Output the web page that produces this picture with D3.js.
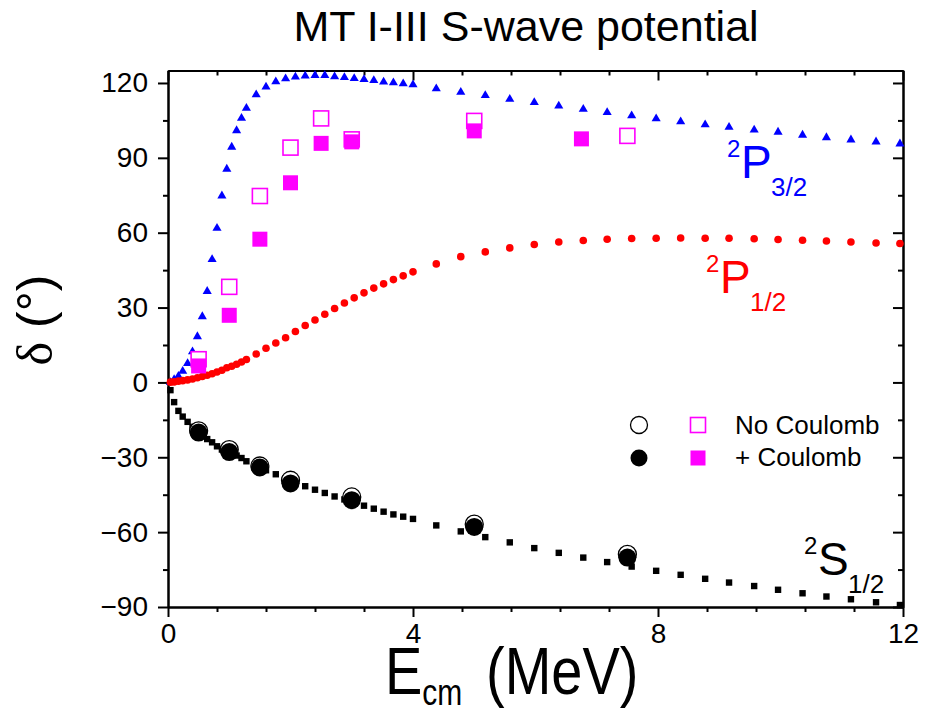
<!DOCTYPE html>
<html>
<head>
<meta charset="utf-8">
<script src="https://cdn.jsdelivr.net/npm/d3@7"></script>
<style>
  body { margin: 0; background: #fff; }
  svg { font-family: "Liberation Sans", Arial, sans-serif; }
  .axis path, .axis line { stroke: #000; stroke-width: 2; }
  .axis text { font-size: 28px; fill: #000; }
</style>
</head>
<body>
<div id="graf"></div>
<script>
// Energia (MeV) de las curvas
const energia = [0.04, 0.1, 0.17, 0.24, 0.32, 0.4, 0.48, 0.56, 0.64, 0.72, 0.8, 0.88, 0.96, 1.04, 1.12, 1.2, 1.28,
  1.44, 1.6, 1.76, 1.92, 2.08, 2.24, 2.4, 2.56, 2.72, 2.88, 3.04, 3.2, 3.36, 3.52, 3.68, 3.84, 4.0,
  4.38, 4.78, 5.18, 5.58, 5.98, 6.38, 6.78, 7.17, 7.57, 7.97, 8.37, 8.77, 9.16, 9.57, 9.96, 10.36, 10.75, 11.15, 11.56, 11.95]

// 2P3/2 (triangulos azules)
const p32 = [0, 1.2, 2.5, 4.5, 7.6, 12.3, 18.4, 26.4, 36.5, 49.3, 61.8, 74.8, 85.5, 94.3, 100.9, 105.9, 109.9,
  115.3, 118.4, 120.5, 121.7, 122.4, 122.8, 123.0, 123.0, 122.5, 122.2, 121.8, 121.4, 121.0, 120.4, 120.1, 119.7, 119.3,
  117.7, 116.3, 115.0, 113.5, 112.2, 110.8, 109.5, 108.2, 106.9, 105.7, 104.5, 103.3, 102.3, 101.2, 100.3, 99.1, 98.1, 97.2, 96.4, 95.6]

// 2P1/2 (circulos rojos)
const p12 = [0.1, 0.2, 0.5, 0.7, 1.0, 1.4, 1.9, 2.4, 2.9, 3.5, 4.2, 4.9, 5.9, 6.5, 7.3, 8.2, 9.2,
  11.4, 13.7, 15.8, 17.9, 20.4, 22.8, 25.0, 27.3, 29.6, 31.8, 33.9, 35.9, 37.8, 39.5, 41.2, 42.7, 44.3,
  47.5, 50.4, 52.3, 53.9, 55.3, 56.3, 56.9, 57.4, 57.7, 57.8, 57.9, 57.8, 57.8, 57.6, 57.3, 57.0, 56.7, 56.3, 55.9, 55.7]

// 2S1/2 (cuadrados negros)
const s12 = [-3.1, -7.9, -11.4, -13.7, -15.8, -17.8, -19.6, -21.2, -22.7, -24.0, -25.6, -26.9, -27.7, -28.5, -29.3, -30.3, -31.6,
  -33.5, -35.2, -36.8, -38.4, -40.0, -41.6, -43.0, -44.3, -45.7, -46.9, -48.2, -49.4, -50.6, -51.8, -52.9, -53.8, -54.7,
  -57.3, -59.7, -62.0, -64.1, -66.4, -68.3, -70.2, -72.0, -73.8, -75.5, -77.1, -78.7, -80.2, -81.6, -83.1, -84.5, -85.8, -86.9, -88.1, -89.2]

// Onda S: sin / con Coulomb (circulos grandes)
const eOndaS = [0.5, 1.0, 1.5, 2.0, 3.0, 5.0, 7.5]
const sSinCoul = [-19.4, -26.9, -33.5, -39.2, -45.9, -56.8, -68.9]
const sConCoul = [-20.1, -27.9, -34.1, -40.5, -47.2, -57.9, -70.2]

// Onda P: sin / con Coulomb (cuadrados magenta)
const ePSin = [0.5, 1.0, 1.5, 2.0, 2.5, 3.0, 5.0, 7.5]
const pSinCoul = [9.3, 38.3, 74.7, 94.1, 105.8, 97.4, 104.8, 98.8]
const ePCon = [0.5, 1.0, 1.5, 2.0, 2.5, 3.0, 5.0, 6.75]
const pConCoul = [6.6, 26.9, 57.4, 80.0, 95.8, 96.4, 100.8, 97.6]

const xTicks = [0, 4, 8, 12]
const xMinor = [0.8, 1.6, 2.4, 3.2, 4.8, 5.6, 6.4, 7.2, 8.8, 9.6, 10.4, 11.2]
const yTicks = [-90, -60, -30, 0, 30, 60, 90, 120]
const yMinor = [-75, -45, -15, 15, 45, 75, 105]

// Dimensiones
const anchoTotal = 926
const altoTotal = 716
const margins = { top: 70.5, right: 23, bottom: 109, left: 168 }
const ancho = anchoTotal - margins.left - margins.right
const alto = altoTotal - margins.top - margins.bottom

const svg = d3.select("#graf").append("svg")
  .attr("width", anchoTotal)
  .attr("height", altoTotal)

const g = svg.append("g")
  .attr("transform", `translate(${margins.left}, ${margins.top})`)

// Escaladores
const x = d3.scaleLinear().domain([0, 12]).range([0, ancho])
const y = d3.scaleLinear().domain([-90, 125]).range([alto, 0])

// Ejes
const ejes = (axis, trans) => g.append("g").classed("axis", true).attr("transform", trans).call(axis)

ejes(d3.axisBottom(x).tickValues(xMinor).tickFormat("").tickSize(5).tickSizeOuter(0), `translate(0,${alto})`)
ejes(d3.axisBottom(x).tickValues(xTicks).tickSize(10).tickSizeOuter(0).tickPadding(6), `translate(0,${alto})`)
ejes(d3.axisLeft(y).tickValues(yMinor).tickFormat("").tickSize(5).tickSizeOuter(0), "")
ejes(d3.axisLeft(y).tickValues(yTicks).tickSize(10).tickSizeOuter(0).tickPadding(10), "")
ejes(d3.axisTop(x).tickValues(xMinor).tickFormat("").tickSize(-5).tickSizeOuter(0), "")
ejes(d3.axisTop(x).tickValues(xTicks).tickFormat("").tickSize(-10).tickSizeOuter(0), "")
ejes(d3.axisRight(y).tickValues(yMinor).tickFormat("").tickSize(-5).tickSizeOuter(0), `translate(${ancho},0)`)
ejes(d3.axisRight(y).tickValues(yTicks).tickFormat("").tickSize(-10).tickSizeOuter(0), `translate(${ancho},0)`)

// Series
const tri = d3.symbol().type(d3.symbolTriangle).size(36)

g.selectAll(".p32").data(energia).enter().append("path")
  .attr("d", tri)
  .attr("transform", (d, i) => `translate(${x(d)},${y(p32[i])})`)
  .attr("fill", "#0000ff")

g.selectAll(".p12").data(energia).enter().append("circle")
  .attr("cx", d => x(d))
  .attr("cy", (d, i) => y(p12[i]))
  .attr("r", 3.8)
  .attr("fill", "#ff0000")

g.selectAll(".s12").data(energia).enter().append("rect")
  .attr("x", d => x(d) - 3.2)
  .attr("y", (d, i) => y(s12[i]) - 3.2)
  .attr("width", 6.4)
  .attr("height", 6.4)
  .attr("fill", "#000")

// Puntos con / sin Coulomb
const lado = 15
g.selectAll(".pSin").data(ePSin).enter().append("rect")
  .attr("x", d => x(d) - lado / 2)
  .attr("y", (d, i) => y(pSinCoul[i]) - lado / 2)
  .attr("width", lado).attr("height", lado)
  .attr("fill", "#fff").attr("stroke", "#ff00ff").attr("stroke-width", 1.6)

g.selectAll(".pCon").data(ePCon).enter().append("rect")
  .attr("x", d => x(d) - lado / 2)
  .attr("y", (d, i) => y(pConCoul[i]) - lado / 2)
  .attr("width", lado).attr("height", lado)
  .attr("fill", "#ff00ff")

g.selectAll(".sSin").data(eOndaS).enter().append("circle")
  .attr("cx", d => x(d))
  .attr("cy", (d, i) => y(sSinCoul[i]))
  .attr("r", 9)
  .attr("fill", "#fff").attr("stroke", "#000").attr("stroke-width", 1.3)

g.selectAll(".sCon").data(eOndaS).enter().append("circle")
  .attr("cx", d => x(d))
  .attr("cy", (d, i) => y(sConCoul[i]))
  .attr("r", 9)
  .attr("fill", "#000")

// Leyenda
const leyenda = svg.append("g")
leyenda.append("circle").attr("cx", 639).attr("cy", 425).attr("r", 8.5)
  .attr("fill", "#fff").attr("stroke", "#000").attr("stroke-width", 1.3)
leyenda.append("circle").attr("cx", 639).attr("cy", 458).attr("r", 8.5).attr("fill", "#000")
leyenda.append("rect").attr("x", 698 - 7.5).attr("y", 425 - 7.5).attr("width", 15).attr("height", 15)
  .attr("fill", "#fff").attr("stroke", "#ff00ff").attr("stroke-width", 1.6)
leyenda.append("rect").attr("x", 698 - 7.5).attr("y", 458 - 7.5).attr("width", 15).attr("height", 15)
  .attr("fill", "#ff00ff")
leyenda.append("text").attr("x", 735).attr("y", 434).style("font-size", "26px").text("No Coulomb")
leyenda.append("text").attr("x", 735).attr("y", 466).style("font-size", "26px").text("+ Coulomb")

// Etiquetas de las ondas
const etiqueta = (xx, yy, letra, sub, color) => {
  const t = svg.append("g").attr("fill", color)
  t.append("text").attr("x", xx).attr("y", yy - 21).style("font-size", "24px").text("2")
  t.append("text").attr("x", xx + 14).attr("y", yy).style("font-size", "46px").text(letra)
  t.append("text").attr("x", xx + 44).attr("y", yy + 18).style("font-size", "26px").text(sub)
}
etiqueta(727, 178, "P", "3/2", "#0000ff")
etiqueta(706, 293, "P", "1/2", "#ff0000")
etiqueta(804, 575, "S", "1/2", "#000")

// Titulo
svg.append("text")
  .attr("x", 526).attr("y", 41)
  .attr("text-anchor", "middle")
  .style("font-size", "43px")
  .text("MT I-III S-wave potential")

// Titulos de los ejes (un poco estirados en vertical, como el original)
const xLabel = svg.append("text")
  .attr("transform", "translate(0, 694) scale(1, 1.2)")
  .style("font-size", "56px")
xLabel.append("tspan").attr("x", 385).attr("y", 0).text("E")
xLabel.append("tspan").attr("dy", 9).style("font-size", "30px").text("cm")
xLabel.append("tspan").attr("x", 486).attr("y", 0).text("(MeV)")

const yLabel = svg.append("text")
  .attr("transform", "translate(52, 320) rotate(-90)")
  .attr("text-anchor", "middle")
  .style("font-size", "50px")
yLabel.append("tspan").style("font-family", "'Liberation Serif', serif").text("δ")
yLabel.append("tspan").text(" (°)")
</script>
</body>
</html>
